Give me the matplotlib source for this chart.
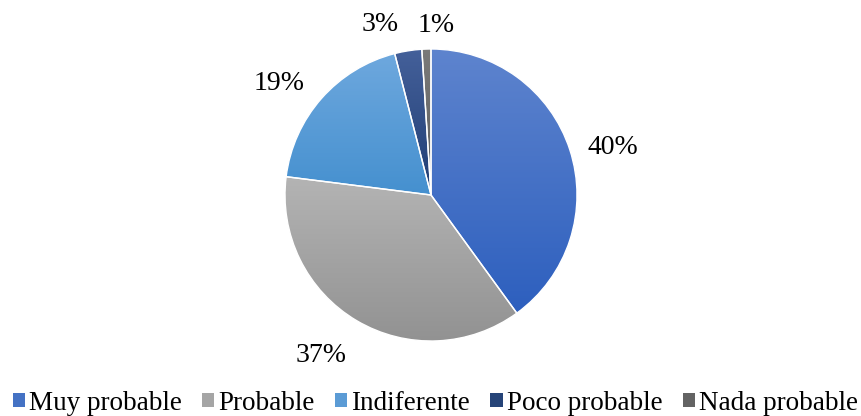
import numpy as np
import matplotlib
matplotlib.use("Agg")
from matplotlib import pyplot as plt
from matplotlib.patches import Patch
from matplotlib.colors import LinearSegmentedColormap

# datos de la encuesta
categorias = ["Muy probable", "Probable", "Indiferente", "Poco probable", "Nada probable"]
porcentajes = [40, 37, 19, 3, 1]

# colores (arriba / abajo del degradado)
col_arriba = ["#5E84CE", "#B4B4B4", "#6EA8DE", "#44609A", "#7A7A7A"]
col_abajo = ["#2D5FBE", "#929292", "#4590CF", "#213E74", "#5C5C5C"]
col_leyenda = ["#4472C4", "#A5A5A5", "#5B9BD5", "#264478", "#636363"]

# desplazamiento de cada etiqueta en pixeles (x a la derecha, y hacia abajo)
ajustes = [(4, 10), (-15, 0), (-12, 12), (-22, 14), (11, 17)]

plt.rcParams['font.family'] = ['Liberation Serif', 'DejaVu Serif']

fig = plt.figure(figsize=(8.62, 4.16), dpi=100)
ax = fig.add_axes([0, 0, 1, 1])

wedges, textos, pcts = ax.pie(porcentajes, startangle=90, counterclock=False,
                              center=(431, 221), radius=146,
                              autopct="%1.0f%%", pctdistance=1.28,
                              wedgeprops=dict(linewidth=1, edgecolor="white"),
                              textprops=dict(fontsize=20, color="black"),
                              frame=True)

# degradado vertical en cada sector
for w, c1, c2 in zip(wedges, col_arriba, col_abajo):
    ext = w.get_path().transformed(w.get_patch_transform()).get_extents()
    cmap = LinearSegmentedColormap.from_list("g", [c2, c1])
    grad = np.linspace(0, 1, 256).reshape(-1, 1)
    w.set_facecolor("none")
    im = ax.imshow(grad, cmap=cmap, origin="lower", aspect="auto",
                   extent=[ext.x0, ext.x1, ext.y0, ext.y1], zorder=1)
    im.set_clip_path(w)
    w.set_zorder(2)

for t, (dx, dy) in zip(pcts, ajustes):
    x, y = t.get_position()
    t.set_position((x + dx, y - dy))

ax.set_xlim(0, 862)
ax.set_ylim(0, 416)
ax.set_aspect("equal")
ax.axis("off")

handles = [Patch(facecolor=c, edgecolor="none") for c in col_leyenda]
fig.legend(handles, categorias, loc="lower center", ncol=5, frameon=False,
           fontsize=19.5, handlelength=0.45, handleheight=0.45,
           handletextpad=0.15, columnspacing=0.75, borderaxespad=0.0,
           bbox_to_anchor=(0.505, -0.025))

plt.savefig("out.png", dpi=100)
